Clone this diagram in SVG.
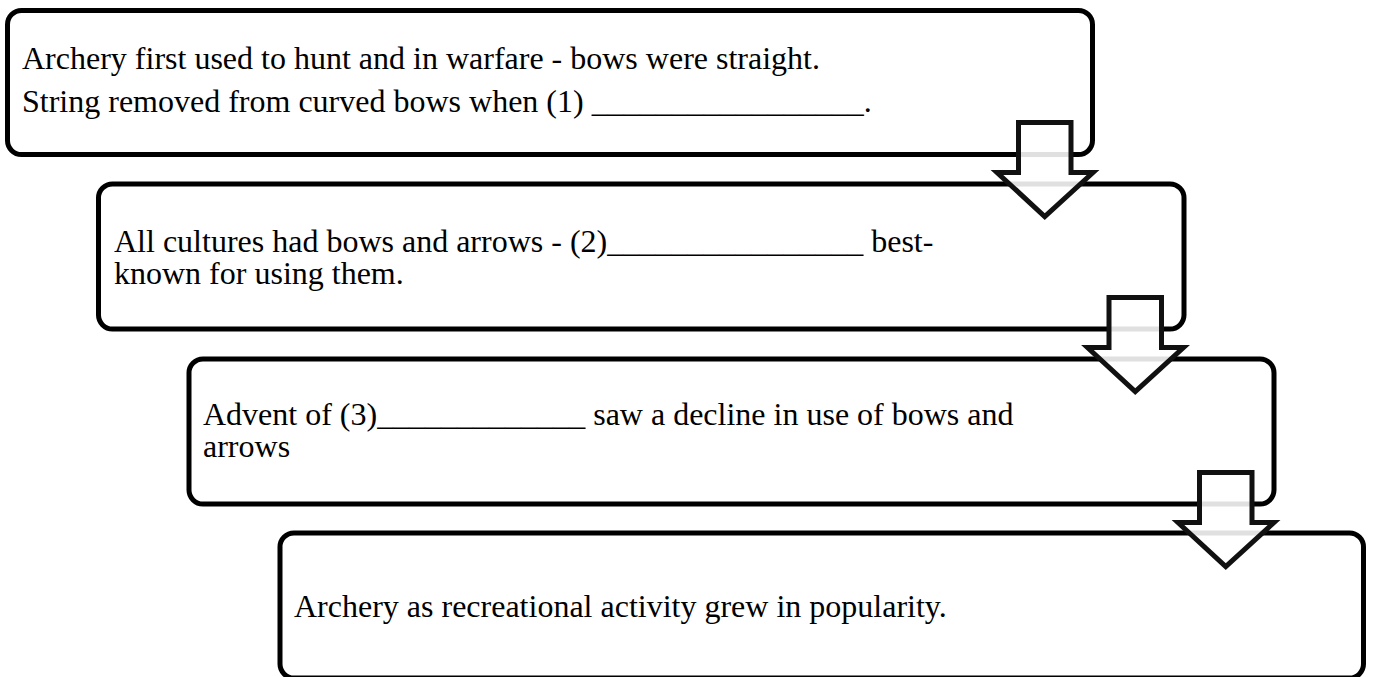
<svg xmlns="http://www.w3.org/2000/svg" xmlns:xlink="http://www.w3.org/1999/xlink" width="1373" height="677" viewBox="0 0 1373 677">
<style>
.box{fill:#fff;stroke:#000;stroke-width:5}
.t{font-family:"Liberation Serif","Times New Roman",serif;font-size:32px;fill:#000}
.arr{fill:#fff;fill-opacity:0.88;stroke:#111;stroke-width:5;stroke-linejoin:miter;stroke-miterlimit:10}
</style>
<defs>
<path id="arrow" class="arr" d="M0,0 H52.5 V50 H74.5 L26.25,94 L-21.5,50 H0 Z"/>
</defs>
<rect width="1373" height="677" fill="#fff"/>
<g id="node1">
<rect class="box" x="7.5" y="10.5" width="1085" height="144" rx="14"/>
<text class="t" x="22" y="68.5">Archery first used to hunt and in warfare - bows were straight.</text>
<text class="t" x="22" y="111.5">String removed from curved bows when (1) _________________.</text>
</g>
<g id="node2">
<rect class="box" x="98.5" y="184" width="1085.5" height="145" rx="14"/>
<text class="t" x="114" y="252">All cultures had bows and arrows - (2)________________ best-</text>
<text class="t" x="114" y="283.5">known for using them.</text>
</g>
<g id="node3">
<rect class="box" x="189" y="359" width="1085" height="145" rx="14"/>
<text class="t" x="203" y="425">Advent of (3)_____________ saw a decline in use of bows and</text>
<text class="t" x="203" y="457">arrows</text>
</g>
<g id="node4">
<rect class="box" x="280" y="533" width="1083.5" height="145" rx="14"/>
<text class="t" x="294" y="617">Archery as recreational activity grew in popularity.</text>
</g>
<g id="connectors">
<use xlink:href="#arrow" href="#arrow" transform="translate(1018.5,122.5)"/>
<use xlink:href="#arrow" href="#arrow" transform="translate(1109,297.5)"/>
<use xlink:href="#arrow" href="#arrow" transform="translate(1199.5,472.5)"/>
</g>
</svg>
